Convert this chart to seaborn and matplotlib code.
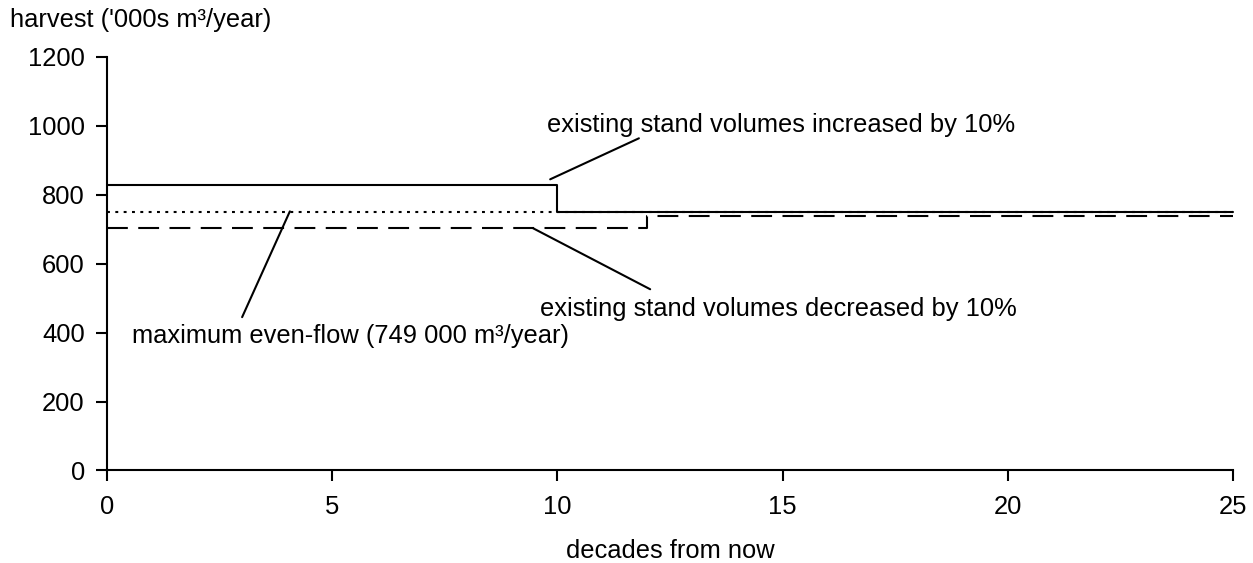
import pandas as pd
import numpy as np
import seaborn as sns
import matplotlib.pyplot as plt

# harvest levels ('000s m3/year), step changes by decade
decades_increased = [0, 10, 25]
harvest_increased = [828, 751, 751]

decades_evenflow = [0, 25]
harvest_evenflow = [749, 749]

decades_decreased = [0, 12, 25]
harvest_decreased = [703, 738, 738]

x_ticks = [0, 5, 10, 15, 20, 25]
y_ticks = [0, 200, 400, 600, 800, 1000, 1200]

label_increased = "existing stand volumes increased by 10%"
label_decreased = "existing stand volumes decreased by 10%"
label_evenflow = "maximum even-flow (749 000 m³/year)"

FS = 18.4

sns.set_theme(style="white")
plt.rcParams['font.family'] = ['Liberation Sans', 'DejaVu Sans']
plt.rcParams['font.size'] = FS
plt.rcParams['text.color'] = 'black'

fig = plt.figure(figsize=(12.53, 5.63), dpi=100)
ax = fig.add_axes([0.0854, 0.1643, 0.8986, 0.7345])

sns.lineplot(x=decades_increased, y=harvest_increased, ax=ax, color='black',
             linewidth=1.5, drawstyle='steps-post', clip_on=False)
sns.lineplot(x=decades_evenflow, y=harvest_evenflow, ax=ax, color='black',
             linewidth=1.5, linestyle=(0, (1.4, 2.6)), clip_on=False)
sns.lineplot(x=decades_decreased, y=harvest_decreased, ax=ax, color='black',
             linewidth=1.5, linestyle=(0, (10, 5)), drawstyle='steps-post', clip_on=False)

# leader lines and labels
ax.plot([9.84, 11.81], [845, 964], color='black', linewidth=1.5)
ax.text(9.77, 981, label_increased, va='baseline', ha='left', fontsize=FS, color='black')

ax.plot([9.46, 12.06], [703, 526], color='black', linewidth=1.5)
ax.text(9.62, 449, label_decreased, va='baseline', ha='left', fontsize=FS, color='black')

ax.plot([4.06, 3.0], [752, 445], color='black', linewidth=1.5)
ax.text(0.56, 370, label_evenflow, va='baseline', ha='left', fontsize=FS, color='black')

ax.set_xlim(0, 25)
ax.set_ylim(0, 1200)
ax.set_xticks(x_ticks)
ax.set_yticks(y_ticks)
ax.tick_params(axis='both', direction='out', length=8, width=1.5, colors='black',
               labelsize=FS, left=True, bottom=True)
ax.tick_params(axis='x', pad=10)
ax.tick_params(axis='y', pad=8)

for side in ['top', 'right']:
    ax.spines[side].set_visible(False)
for side in ['left', 'bottom']:
    ax.spines[side].set_color('black')
    ax.spines[side].set_linewidth(1.5)

ax.set_xlabel("decades from now", fontsize=FS, labelpad=14, color='black')
ax.set_ylabel("")
fig.text(0.008, 0.964, "harvest ('000s m³/year)", ha='left', va='center', fontsize=FS, color='black')

fig.savefig("out.png", dpi=100, facecolor='white')
